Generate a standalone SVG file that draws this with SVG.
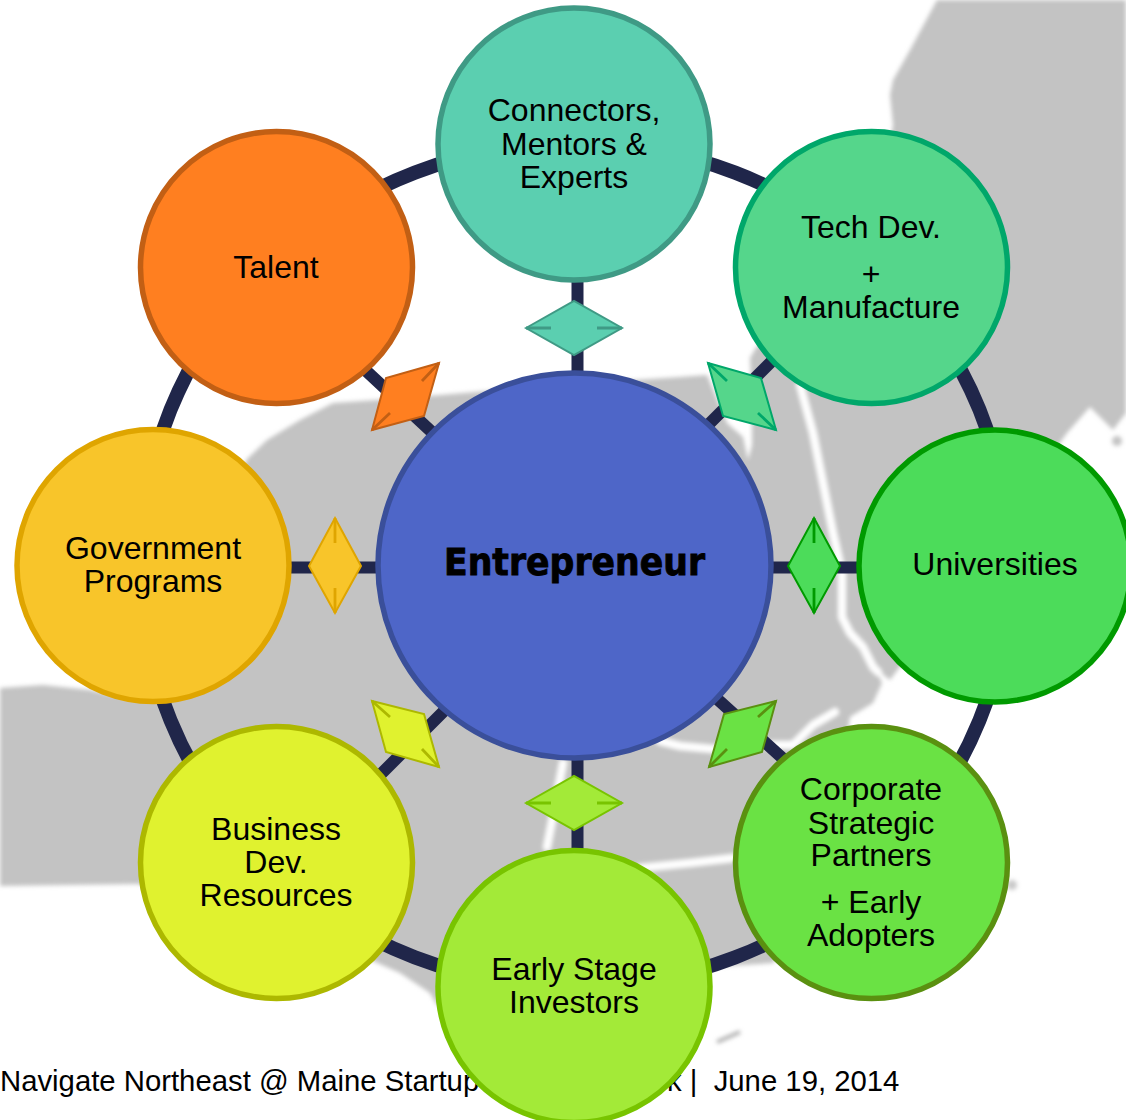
<svg xmlns="http://www.w3.org/2000/svg" width="1126" height="1120" viewBox="0 0 1126 1120">
<defs>
<filter id="soft" x="-5%" y="-5%" width="110%" height="110%"><feGaussianBlur stdDeviation="2.2"/></filter>
</defs>
<style>
text{font-family:"Liberation Sans",Arial,sans-serif;font-size:32px;fill:#000;text-anchor:middle}
.foot{font-size:29.3px;text-anchor:start}
.spoke{stroke:#20264a;stroke-width:12;fill:none}
.ring{stroke-width:14}
.node{stroke-width:5.5}
.dia{stroke-width:2}
.tick{stroke-width:2.8;fill:none}
.river{stroke:#fff;fill:none;stroke-linecap:round;stroke-linejoin:round}
</style>
<rect width="1126" height="1120" fill="#fff"/>
<g id="map" filter="url(#soft)">
<path fill="#c3c3c3" d="M937 0L910 50L893 80L890 95L893 125L880 200L800 340L757 346L750 358L752 400L752 445L748 460L743 437L727 423L707 375L680 377L560 385L440 395L377 400L333 403L300 420L267 440L247 459L200 560L137 700L90 690L43 685L0 688V886L138 884L300 930L373 961L400 973L430 993L437 1005L574 1040L713 967L773 963L820 900L850 717L873 703L882 683L875 668L890 680L950 600L1040 470L1067 433L1090 407L1113 430L1126 413V0Z"/>
<circle cx="1117" cy="441" r="5" fill="#c3c3c3"/>
<circle cx="1012" cy="885" r="5" fill="#c8c8c8"/>
<path d="M717 1042L740 1032" stroke="#b0b0b0" stroke-width="4" fill="none"/>
<path class="river" stroke-width="8" d="M800 385L813 433L823 483L833 533L842 573L842 617L850 633L863 647L873 667L878 672"/>
<path class="river" stroke-width="8" d="M660 741L680 746L713 749L763 745L793 745L813 725L835 712"/>
<path class="river" stroke-width="8" d="M563 763L556 800L547 847"/>
<path class="river" stroke-width="8" d="M640 868L690 863L733 858"/>
</g>
<text class="foot" x="0" y="1091">Navigate Northeast @ Maine Startup</text>
<text class="foot" x="667" y="1091" xml:space="preserve">k |  June 19, 2014</text>
<g id="connectors">
<ellipse class="spoke ring" cx="575" cy="565" rx="435" ry="422"/>
<path class="spoke" d="M577.5 270V380M577.5 750V860M285 567.5H385M765 567.5H865M362 367L435 435M775 358L705 428M715 697L790 765M375 780L450 705"/>
<g id="diamonds">
<path class="dia" fill="#5bcfb0" stroke="#3f9a85" d="M526 328L574 301L622 328L574 355Z"/>
<path class="tick" stroke="#3f9a85" d="M526 328H551M622 328H597"/>
<path class="dia" fill="#a3ea38" stroke="#78c400" d="M526 803L574 776L622 803L574 830Z"/>
<path class="tick" stroke="#78c400" d="M526 803H551M622 803H597"/>
<path class="dia" fill="#f8c52a" stroke="#dfa500" d="M335 518L361 566L335 613L309 566Z"/>
<path class="tick" stroke="#dfa500" d="M335 518V543M335 613V588"/>
<path class="dia" fill="#4cdc5a" stroke="#009a00" d="M814 518L840 566L814 613L788 566Z"/>
<path class="tick" stroke="#009a00" d="M814 518V543M814 613V588"/>
<path class="dia" fill="#ff7f20" stroke="#c25f14" d="M439 363L424 416L372 430L386 378Z"/>
<path class="tick" stroke="#c25f14" d="M439 363L422 381M372 430L390 413"/>
<path class="dia" fill="#55d68b" stroke="#00a76a" d="M708 363L761 378L776 430L723 416Z"/>
<path class="tick" stroke="#00a76a" d="M708 363L727 381M776 430L758 413"/>
<path class="dia" fill="#e0f22f" stroke="#adb800" d="M372 701L424 714L439 767L386 752Z"/>
<path class="tick" stroke="#adb800" d="M372 701L390 717M439 767L422 749"/>
<path class="dia" fill="#6ae244" stroke="#5a9010" d="M776 701L724 714L709 767L762 752Z"/>
<path class="tick" stroke="#5a9010" d="M776 701L758 717M709 767L727 749"/>
</g>
</g>
<g id="entrepreneur">
<ellipse class="node" cx="574.5" cy="565.5" rx="196.5" ry="192.5" fill="#4e66c8" stroke="#3a4f9a"/>
<text x="574.5" y="575" textLength="261" lengthAdjust="spacingAndGlyphs" style="font-family:'DejaVu Sans','Liberation Sans',sans-serif;font-weight:700;font-size:38px;stroke:#000;stroke-width:.9">Entrepreneur</text>
</g>
<g id="connectors-mentors">
<circle class="node" cx="574" cy="144" r="136" fill="#5bcfb0" stroke="#3f9a85"/>
<text x="574" y="121">Connectors,</text><text x="574" y="155">Mentors &amp;</text><text x="574" y="188">Experts</text>
</g>
<g id="tech-dev">
<circle class="node" cx="871.5" cy="267.5" r="136" fill="#55d68b" stroke="#00a76a"/>
<text x="871" y="238">Tech Dev.</text><text x="871" y="285">+</text><text x="871" y="318">Manufacture</text>
</g>
<g id="universities">
<circle class="node" cx="995" cy="566" r="136" fill="#4cdc5a" stroke="#009a00"/>
<text x="995" y="575">Universities</text>
</g>
<g id="corporate">
<circle class="node" cx="871.5" cy="862.5" r="136" fill="#6ae244" stroke="#5a9010"/>
<text x="871" y="800">Corporate</text><text x="871" y="834">Strategic</text><text x="871" y="866">Partners</text><text x="871" y="913">+ Early</text><text x="871" y="946">Adopters</text>
</g>
<g id="early-stage">
<circle class="node" cx="574" cy="986.5" r="136" fill="#a3ea38" stroke="#78c400"/>
<text x="574" y="980">Early Stage</text><text x="574" y="1013">Investors</text>
</g>
<g id="business-dev">
<circle class="node" cx="276.5" cy="862.5" r="136" fill="#e0f22f" stroke="#adb800"/>
<text x="276" y="840">Business</text><text x="276" y="873">Dev.</text><text x="276" y="906">Resources</text>
</g>
<g id="government">
<circle class="node" cx="153" cy="565.5" r="136" fill="#f8c52a" stroke="#dfa500"/>
<text x="153" y="559">Government</text><text x="153" y="592">Programs</text>
</g>
<g id="talent">
<circle class="node" cx="276.5" cy="267.5" r="136" fill="#ff7f20" stroke="#c25f14"/>
<text x="276" y="278">Talent</text>
</g>
</svg>
